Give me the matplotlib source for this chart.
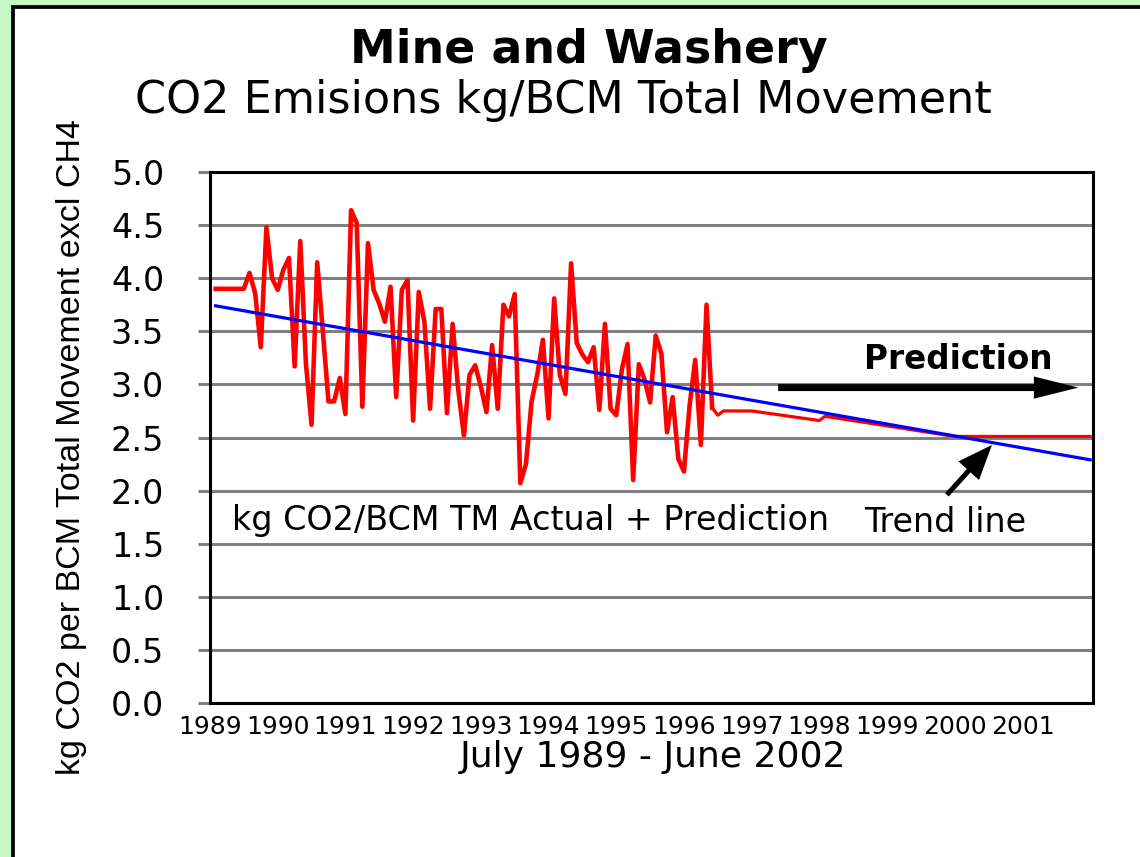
import numpy as np
import matplotlib
matplotlib.use('Agg')
import matplotlib.pyplot as plt
from matplotlib.patches import Rectangle
from matplotlib import font_manager

# monthly kg CO2 / BCM, July 1989 -> Oct 1996 (actual)
actual_kg_bcm = [
    3.90, 3.90, 3.90, 3.90, 3.90, 3.90, 4.05, 3.86, 3.35, 4.48,
    4.00, 3.89, 4.08, 4.19, 3.17, 4.35, 3.20, 2.62, 4.15, 3.50,
    2.84, 2.84, 3.06, 2.72, 4.64, 4.52, 2.79, 4.33, 3.89, 3.76,
    3.59, 3.92, 2.88, 3.89, 3.98, 2.66, 3.87, 3.59, 2.77, 3.71,
    3.71, 2.73, 3.57, 2.95, 2.52, 3.09, 3.18, 2.98, 2.74, 3.37,
    2.77, 3.75, 3.64, 3.85, 2.07, 2.25, 2.84, 3.09, 3.42, 2.68,
    3.81, 3.09, 2.91, 4.14, 3.39, 3.28, 3.21, 3.35, 2.76, 3.57,
    2.77, 2.71, 3.14, 3.38, 2.10, 3.19, 3.05, 2.83, 3.46, 3.29,
    2.55, 2.88, 2.30, 2.18, 2.80, 3.23, 2.43, 3.75, 2.78,
]

# prediction (month index from July 1989, value)
pred_months = [88, 89, 90, 95, 107, 108, 131, 155]
pred_kg_bcm = [2.78, 2.71, 2.75, 2.75, 2.66, 2.70, 2.51, 2.51]

# trend line end points
trend_months = [0, 155]
trend_kg_bcm = [3.74, 2.29]

year_labels = [str(y) for y in range(1989, 2002)]
y_ticks = np.arange(0, 5.01, 0.5)

plt.rcParams['font.family'] = 'DejaVu Sans'

names = {f.name for f in font_manager.fontManager.ttflist}
if 'Liberation Sans Narrow' in names:
    ylab_font, ylab_size = 'Liberation Sans Narrow', 30
else:
    ylab_font, ylab_size = 'Liberation Sans', 24.5

W, H = 1140, 857
fig = plt.figure(figsize=(W / 100, H / 100), dpi=100)
fig.patch.set_facecolor('#c6f8c6')

# white panel with black border (runs off the right/bottom edges)
fig.add_artist(Rectangle((12.5 / W, -0.05), 1.1, 1.05 - 6.7 / H,
                         transform=fig.transFigure, facecolor='white',
                         edgecolor='black', lw=2.7, zorder=-1))

ax = fig.add_axes([210 / W, 1 - 703 / H, 883 / W, 531 / H])
ax.set_facecolor('white')

ax.plot(np.arange(len(actual_kg_bcm)), actual_kg_bcm, color='#ff0000', lw=3.3, zorder=3)
ax.plot(pred_months, pred_kg_bcm, color='#ff0000', lw=2.3, zorder=3)
ax.plot(trend_months, trend_kg_bcm, color='#0000ff', lw=2.3, zorder=4)

ax.set_xlim(-0.5, 155.5)
ax.set_ylim(0, 5)
ax.set_yticks(y_ticks, [f'{v:.1f}' for v in y_ticks])
ax.set_xticks(np.arange(len(year_labels)) * 12 - 1, year_labels)
ax.yaxis.grid(True, color='#808080', lw=2.2)
ax.set_axisbelow(True)
for s in ax.spines.values():
    s.set_linewidth(2.2)
    s.set_color('black')
ax.tick_params(axis='y', length=9, width=2.2, color='#808080', pad=24, labelsize=24)
ax.tick_params(axis='x', length=0, pad=9, labelsize=18)

# annotations
ax.text(114.9, 3.145, 'Prediction', fontsize=23.5, fontweight='bold', va='baseline')
ax.annotate('', xy=(152.9, 2.97), xytext=(99.7, 2.97),
            arrowprops=dict(facecolor='black', edgecolor='black', width=5,
                            headwidth=16, headlength=32, shrink=0, lw=0))
ax.text(2.9, 1.63, 'kg CO2/BCM TM Actual + Prediction', fontsize=24, va='baseline', zorder=5)
ax.text(114.9, 1.61, 'Trend line', fontsize=24, va='baseline', zorder=6,
        bbox=dict(facecolor='white', edgecolor='none', pad=2))
ax.annotate('', xy=(137.6, 2.43), xytext=(129.6, 1.96),
            arrowprops=dict(facecolor='black', edgecolor='black', width=3.6,
                            headwidth=20, headlength=25, shrink=0, lw=0))

# titles and axis labels
fig.text(589 / W, 1 - 63 / H, 'Mine and Washery', ha='center', va='baseline',
         fontsize=33, fontweight='bold')
fig.text(563 / W, 1 - 113 / H, 'CO2 Emisions kg/BCM Total Movement', ha='center',
         va='baseline', fontsize=32)
fig.text(653 / W, 1 - 767 / H, 'July 1989 - June 2002', ha='center', va='baseline',
         fontsize=26)
fig.text(72 / W, 1 - 447 / H, 'kg CO2 per BCM Total Movement excl CH4', rotation=90,
         ha='center', va='center', family=ylab_font, fontsize=ylab_size)

fig.savefig('out.png', dpi=100)
